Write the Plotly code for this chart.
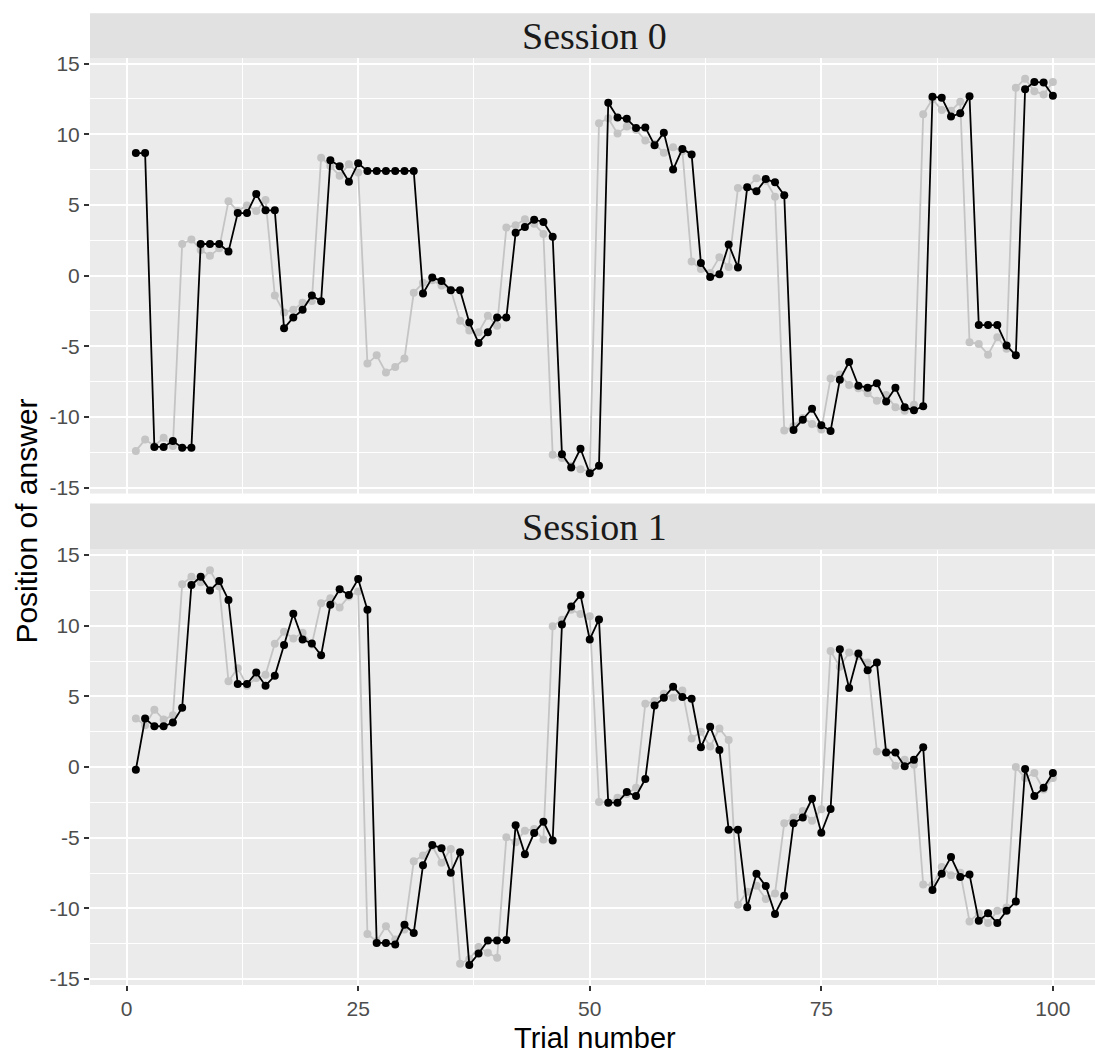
import plotly.graph_objects as go

# ---- data -------------------------------------------------------------
trials = list(range(1, 101))

s0_target = [-12.4, -11.6, -12.05, -11.47, -12.05, 2.24, 2.56, 1.82, 1.4, 1.93,
             5.27, 4.57, 4.97, 4.57, 5.36, -1.4, -2.61, -2.42, -1.91, -1.8,
             8.35, 7.76, 7.06, 7.88, 7.3, -6.22, -5.64, -6.85, -6.46, -5.87,
             -1.21, -0.51, -0.33, -0.70, -1.0, -3.19, -3.89, -4.01, -2.84, -3.54,
             3.40, 3.57, 3.99, 3.68, 2.94, -12.68, -12.91, -13.45, -13.7, -13.85,
             10.79, 11.14, 10.05, 10.56, 10.33, 9.56, 9.32, 8.69, 9.09, 8.81,
             1.0, 0.47, 0.19, 1.31, 0.61, 6.2, 6.25, 6.9, 6.71, 5.59,
             -10.96, -10.65, -10.07, -10.49, -10.89, -7.27, -7.0, -7.74, -7.97, -8.32,
             -8.86, -8.44, -9.32, -9.56, -9.14, 11.42, 12.49, 11.72, 11.66, 12.31,
             -4.71, -4.83, -5.59, -4.36, -5.17, 13.29, 13.94, 13.05, 12.82, 13.71]

s0_answer = [8.67, 8.67, -12.12, -12.12, -11.7, -12.17, -12.17, 2.24, 2.24, 2.24,
             1.7, 4.43, 4.43, 5.78, 4.62, 4.62, -3.73, -2.96, -2.42, -1.4,
             -1.82, 8.16, 7.74, 6.64, 7.95, 7.41, 7.41, 7.41, 7.41, 7.41,
             7.41, -1.26, -0.14, -0.37, -1.03, -1.03, -3.31, -4.76, -4.01, -2.96,
             -2.96, 3.03, 3.45, 3.96, 3.8, 2.75, -12.63, -13.57, -12.25, -13.99,
             -13.45, 12.24, 11.19, 11.1, 10.44, 10.49, 9.23, 10.12, 7.51, 8.97,
             8.58, 0.89, -0.09, 0.09, 2.21, 0.58, 6.25, 5.97, 6.83, 6.6,
             5.69, -10.93, -10.19, -9.42, -10.58, -11.0, -7.36, -6.11, -7.79, -7.93,
             -7.62, -8.9, -7.93, -9.32, -9.53, -9.25, 12.66, 12.59, 11.26, 11.49,
             12.7, -3.5, -3.5, -3.5, -4.94, -5.64, 13.19, 13.71, 13.66, 12.73]

s1_target = [3.43, 2.96, 4.06, 3.36, 3.66, 12.93, 13.47, 13.07, 13.93, 12.77,
             6.07, 7.0, 5.76, 6.3, 6.53, 8.73, 9.57, 9.1, 9.5, 8.68,
             11.6, 11.95, 11.3, 12.07, 12.42, -11.81, -12.32, -11.27, -12.2, -11.5,
             -6.67, -6.25, -5.6, -6.77, -5.79, -13.91, -13.6, -12.74, -13.14, -13.49,
             -4.97, -5.32, -4.5, -4.39, -5.13, 9.97, 10.43, 11.13, 10.83, 10.67,
             -2.47, -2.5, -2.17, -1.9, -1.47, 4.48, 4.67, 5.18, 4.9, 5.41,
             2.03, 2.5, 1.45, 2.73, 1.91, -9.75, -8.82, -8.4, -9.33, -8.94,
             -3.97, -3.57, -3.1, -3.8, -2.99, 8.21, 7.1, 8.1, 7.86, 7.4,
             1.1, 1.1, 0.09, 0.51, 0.16, -8.31, -8.35, -7.07, -7.65, -7.47,
             -10.92, -10.34, -11.04, -10.17, -9.94, 0.0, -0.77, -0.42, -1.59, -0.77]

s1_answer = [-0.19, 3.43, 2.89, 2.89, 3.15, 4.2, 12.88, 13.47, 12.49, 13.16,
             11.83, 5.88, 5.88, 6.7, 5.76, 6.46, 8.63, 10.85, 9.03, 8.75,
             7.91, 11.48, 12.58, 12.18, 13.3, 11.13, -12.44, -12.44, -12.56, -11.16,
             -11.74, -6.95, -5.51, -5.74, -7.47, -6.02, -14.0, -13.19, -12.28, -12.28,
             -12.23, -4.11, -6.16, -4.67, -3.87, -5.2, 10.08, 11.37, 12.18, 9.03,
             10.45, -2.52, -2.52, -1.77, -2.05, -0.84, 4.36, 4.9, 5.69, 4.95,
             4.83, 1.4, 2.85, 1.21, -4.43, -4.43, -9.92, -7.54, -8.42, -10.39,
             -9.1, -3.97, -3.57, -2.24, -4.65, -2.96, 8.33, 5.6, 8.03, 6.86,
             7.4, 1.03, 1.03, 0.05, 0.51, 1.4, -8.7, -7.54, -6.37, -7.77,
             -7.61, -10.88, -10.34, -11.04, -10.17, -9.52, -0.14, -2.05, -1.47, -0.42]

sessions = ["Session 0", "Session 1"]
x_ticks = [0, 25, 50, 75, 100]
x_tick_text = ["0", "25", "50", "75", "100"]
y_ticks = [-15, -10, -5, 0, 5, 10, 15]
y_tick_text = ["-15", "-10", "-5", "0", "5", "10", "15"]

# ---- geometry (pixels) ------------------------------------------------
W, H = 1095, 1056
PANEL_LEFT = 90
strip_px = [(7.3, 52.7), (502.7, 549.3)]    # strip top / bottom
panel_px = [(52.7, 492.7), (549.3, 989.3)]  # panel top / bottom


def fy(px):
    return 1 - px / H


TICK_FONT = dict(family="Liberation Sans, Arial, sans-serif", size=21, color="#4D4D4D")
GRID = "#FFFFFF"
TARGET_COL = "#C4C4C4"
ANSWER_COL = "#000000"

fig = go.Figure()

panels = [("x2", "y2", s0_target, s0_answer), ("x", "y", s1_target, s1_answer)]
for xa, ya, tgt, ans in panels:
    fig.add_trace(go.Scatter(
        x=trials, y=tgt, mode="lines+markers", xaxis=xa, yaxis=ya,
        line=dict(color=TARGET_COL, width=1.8),
        marker=dict(color=TARGET_COL, size=8), showlegend=False, hoverinfo="skip"))
    fig.add_trace(go.Scatter(
        x=trials, y=ans, mode="lines+markers", xaxis=xa, yaxis=ya,
        line=dict(color=ANSWER_COL, width=1.8),
        marker=dict(color=ANSWER_COL, size=8), showlegend=False, hoverinfo="skip"))

x_range = [-3.95, -3.95 + (W - PANEL_LEFT) / 9.263]
y_range = [-15.42, 15.39]

xcommon = dict(range=x_range, domain=[PANEL_LEFT / W, 1], tickvals=x_ticks,
               showgrid=True, gridcolor=GRID, gridwidth=2, zeroline=False,
               showline=False,
               minor=dict(dtick=12.5, tick0=0, showgrid=True, gridcolor=GRID, gridwidth=1))
ycommon = dict(range=y_range, tickvals=y_ticks, ticktext=y_tick_text,
               showgrid=True, gridcolor=GRID, gridwidth=2, zeroline=False,
               showline=False, ticks="outside", ticklen=5, tickwidth=1.5,
               tickcolor="#333333", tickfont=TICK_FONT,
               minor=dict(dtick=2.5, tick0=0, showgrid=True, gridcolor=GRID, gridwidth=1))

fig.update_layout(
    width=W, height=H,
    margin=dict(l=0, r=0, t=0, b=0),
    paper_bgcolor="white", plot_bgcolor="#EBEBEB",
    xaxis=dict(**xcommon, anchor="y", ticktext=x_tick_text, ticks="outside",
               ticklen=5, tickwidth=1.5, tickcolor="#333333", tickfont=TICK_FONT),
    xaxis2=dict(**xcommon, anchor="y2", matches="x", showticklabels=False, ticks=""),
    yaxis=dict(**ycommon, anchor="x", domain=[fy(panel_px[1][1]), fy(panel_px[1][0])]),
    yaxis2=dict(**ycommon, anchor="x2", domain=[fy(panel_px[0][1]), fy(panel_px[0][0])]),
)

# facet strips
for (top, bottom), label in zip(strip_px, sessions):
    fig.add_shape(type="rect", xref="paper", yref="paper",
                  x0=PANEL_LEFT / W, x1=1, y0=fy(bottom), y1=fy(top),
                  fillcolor="#E1E1E1", line=dict(width=0), layer="below")
    fig.add_annotation(text=label, xref="x", yref="paper",
                       x=(x_range[0] + 104.95) / 2, y=fy((top + bottom) / 2),
                       xanchor="center", yanchor="middle", showarrow=False,
                       font=dict(family="Liberation Serif, Times New Roman, serif",
                                 size=38, color="#1A1A1A"))

# axis titles
fig.add_annotation(text="Position of answer", xref="paper", yref="paper",
                   x=27 / W, y=fy(521), textangle=-90, showarrow=False,
                   xanchor="center", yanchor="middle",
                   font=dict(family="Liberation Sans, Arial, sans-serif", size=30, color="#000000"))
fig.add_annotation(text="Trial number", xref="paper", yref="paper",
                   x=594.5 / W, y=fy(1043), showarrow=False,
                   xanchor="center", yanchor="middle",
                   font=dict(family="Liberation Sans, Arial, sans-serif", size=29, color="#000000"))

fig.write_html("out.html")
